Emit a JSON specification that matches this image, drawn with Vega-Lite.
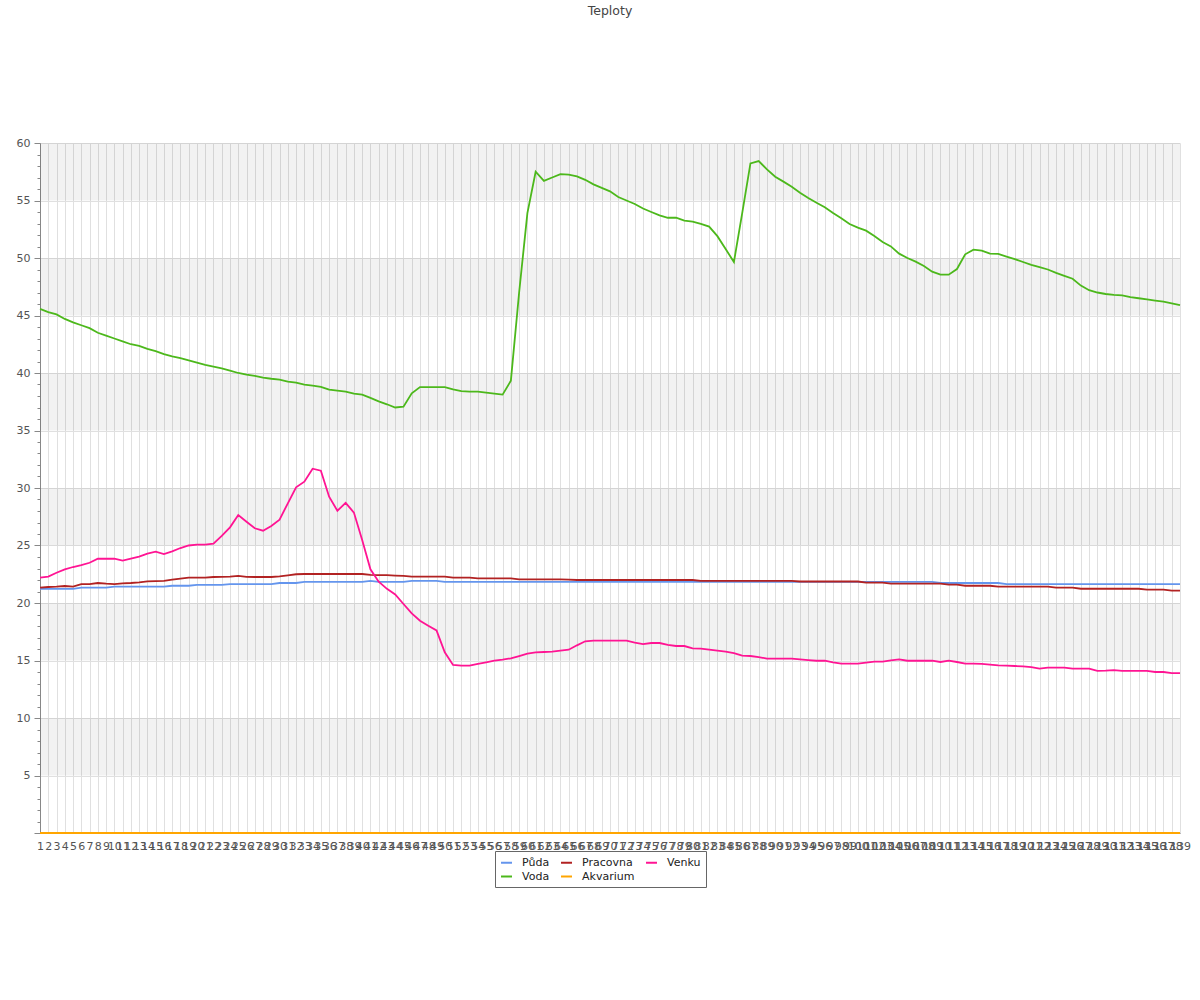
{
"$schema": "https://vega.github.io/schema/vega-lite/v6.json",
"width": 1140, "height": 690,
"autosize": "none",
"padding": {"left": 40, "top": 143, "right": 20, "bottom": 167},
"background": "white",
"title": {"text": "Teploty", "font": "DejaVu Sans", "fontSize": 12.5, "fontWeight": "normal", "color": "#444", "offset": 120, "anchor": "middle"},
"config": {"view": {"stroke": null}, "font": "DejaVu Sans", "axis": {"labelOverlap": false}},
"datasets": {
"bands": [{"lo":55,"hi":60},{"lo":45,"hi":50},{"lo":35,"hi":40},{"lo":25,"hi":30},{"lo":15,"hi":20},{"lo":5,"hi":10}],
"temps": [
{"i":1,"s":"Půda","v":21.22},{"i":2,"s":"Půda","v":21.22},{"i":3,"s":"Půda","v":21.22},{"i":4,"s":"Půda","v":21.22},{"i":5,"s":"Půda","v":21.22},
{"i":6,"s":"Půda","v":21.33},{"i":7,"s":"Půda","v":21.33},{"i":8,"s":"Půda","v":21.33},{"i":9,"s":"Půda","v":21.33},
{"i":10,"s":"Půda","v":21.42},{"i":11,"s":"Půda","v":21.42},{"i":12,"s":"Půda","v":21.42},{"i":13,"s":"Půda","v":21.42},{"i":14,"s":"Půda","v":21.42},{"i":15,"s":"Půda","v":21.42},{"i":16,"s":"Půda","v":21.42},
{"i":17,"s":"Půda","v":21.5},{"i":18,"s":"Půda","v":21.5},{"i":19,"s":"Půda","v":21.5},
{"i":20,"s":"Půda","v":21.57},{"i":21,"s":"Půda","v":21.57},{"i":22,"s":"Půda","v":21.57},{"i":23,"s":"Půda","v":21.57},
{"i":24,"s":"Půda","v":21.65},{"i":25,"s":"Půda","v":21.65},{"i":26,"s":"Půda","v":21.65},{"i":27,"s":"Půda","v":21.65},{"i":28,"s":"Půda","v":21.65},{"i":29,"s":"Půda","v":21.65},
{"i":30,"s":"Půda","v":21.74},{"i":31,"s":"Půda","v":21.74},{"i":32,"s":"Půda","v":21.74},
{"i":33,"s":"Půda","v":21.83},{"i":34,"s":"Půda","v":21.83},{"i":35,"s":"Půda","v":21.83},{"i":36,"s":"Půda","v":21.83},{"i":37,"s":"Půda","v":21.83},{"i":38,"s":"Půda","v":21.83},{"i":39,"s":"Půda","v":21.83},{"i":40,"s":"Půda","v":21.83},
{"i":41,"s":"Půda","v":21.92},
{"i":42,"s":"Půda","v":21.83},{"i":43,"s":"Půda","v":21.83},{"i":44,"s":"Půda","v":21.83},{"i":45,"s":"Půda","v":21.83},
{"i":46,"s":"Půda","v":21.92},{"i":47,"s":"Půda","v":21.92},{"i":48,"s":"Půda","v":21.92},{"i":49,"s":"Půda","v":21.92},
{"i":50,"s":"Půda","v":21.83},{"i":51,"s":"Půda","v":21.83},{"i":52,"s":"Půda","v":21.83},{"i":53,"s":"Půda","v":21.83},{"i":54,"s":"Půda","v":21.83},{"i":55,"s":"Půda","v":21.83},{"i":56,"s":"Půda","v":21.83},{"i":57,"s":"Půda","v":21.83},{"i":58,"s":"Půda","v":21.83},{"i":59,"s":"Půda","v":21.83},
{"i":60,"s":"Půda","v":21.83},{"i":61,"s":"Půda","v":21.83},{"i":62,"s":"Půda","v":21.83},{"i":63,"s":"Půda","v":21.83},{"i":64,"s":"Půda","v":21.83},{"i":65,"s":"Půda","v":21.83},{"i":66,"s":"Půda","v":21.83},{"i":67,"s":"Půda","v":21.83},{"i":68,"s":"Půda","v":21.83},{"i":69,"s":"Půda","v":21.83},
{"i":70,"s":"Půda","v":21.83},{"i":71,"s":"Půda","v":21.83},{"i":72,"s":"Půda","v":21.83},{"i":73,"s":"Půda","v":21.83},{"i":74,"s":"Půda","v":21.83},{"i":75,"s":"Půda","v":21.83},{"i":76,"s":"Půda","v":21.83},{"i":77,"s":"Půda","v":21.83},{"i":78,"s":"Půda","v":21.83},{"i":79,"s":"Půda","v":21.83},
{"i":80,"s":"Půda","v":21.83},{"i":81,"s":"Půda","v":21.83},{"i":82,"s":"Půda","v":21.83},{"i":83,"s":"Půda","v":21.83},{"i":84,"s":"Půda","v":21.83},{"i":85,"s":"Půda","v":21.83},{"i":86,"s":"Půda","v":21.83},{"i":87,"s":"Půda","v":21.83},{"i":88,"s":"Půda","v":21.83},{"i":89,"s":"Půda","v":21.83},
{"i":90,"s":"Půda","v":21.83},{"i":91,"s":"Půda","v":21.83},{"i":92,"s":"Půda","v":21.83},{"i":93,"s":"Půda","v":21.83},{"i":94,"s":"Půda","v":21.83},{"i":95,"s":"Půda","v":21.83},{"i":96,"s":"Půda","v":21.83},{"i":97,"s":"Půda","v":21.83},{"i":98,"s":"Půda","v":21.83},{"i":99,"s":"Půda","v":21.83},
{"i":100,"s":"Půda","v":21.83},{"i":101,"s":"Půda","v":21.83},{"i":102,"s":"Půda","v":21.83},{"i":103,"s":"Půda","v":21.83},{"i":104,"s":"Půda","v":21.83},{"i":105,"s":"Půda","v":21.83},{"i":106,"s":"Půda","v":21.83},{"i":107,"s":"Půda","v":21.83},{"i":108,"s":"Půda","v":21.83},{"i":109,"s":"Půda","v":21.83},
{"i":110,"s":"Půda","v":21.74},{"i":111,"s":"Půda","v":21.74},{"i":112,"s":"Půda","v":21.74},{"i":113,"s":"Půda","v":21.74},{"i":114,"s":"Půda","v":21.74},{"i":115,"s":"Půda","v":21.74},{"i":116,"s":"Půda","v":21.74},{"i":117,"s":"Půda","v":21.74},
{"i":118,"s":"Půda","v":21.65},{"i":119,"s":"Půda","v":21.65},{"i":120,"s":"Půda","v":21.65},{"i":121,"s":"Půda","v":21.65},{"i":122,"s":"Půda","v":21.65},{"i":123,"s":"Půda","v":21.65},{"i":124,"s":"Půda","v":21.65},{"i":125,"s":"Půda","v":21.65},{"i":126,"s":"Půda","v":21.65},{"i":127,"s":"Půda","v":21.65},{"i":128,"s":"Půda","v":21.65},
{"i":129,"s":"Půda","v":21.65},{"i":130,"s":"Půda","v":21.65},{"i":131,"s":"Půda","v":21.65},{"i":132,"s":"Půda","v":21.65},{"i":133,"s":"Půda","v":21.65},{"i":134,"s":"Půda","v":21.65},{"i":135,"s":"Půda","v":21.65},{"i":136,"s":"Půda","v":21.65},{"i":137,"s":"Půda","v":21.65},{"i":138,"s":"Půda","v":21.65},{"i":139,"s":"Půda","v":21.65},

{"i":1,"s":"Voda","v":45.57},{"i":2,"s":"Voda","v":45.3},{"i":3,"s":"Voda","v":45.1},{"i":4,"s":"Voda","v":44.7},{"i":5,"s":"Voda","v":44.4},{"i":6,"s":"Voda","v":44.15},{"i":7,"s":"Voda","v":43.9},{"i":8,"s":"Voda","v":43.5},{"i":9,"s":"Voda","v":43.25},{"i":10,"s":"Voda","v":43.0},
{"i":11,"s":"Voda","v":42.75},{"i":12,"s":"Voda","v":42.5},{"i":13,"s":"Voda","v":42.35},{"i":14,"s":"Voda","v":42.1},{"i":15,"s":"Voda","v":41.9},{"i":16,"s":"Voda","v":41.65},{"i":17,"s":"Voda","v":41.45},{"i":18,"s":"Voda","v":41.3},{"i":19,"s":"Voda","v":41.1},{"i":20,"s":"Voda","v":40.9},
{"i":21,"s":"Voda","v":40.7},{"i":22,"s":"Voda","v":40.55},{"i":23,"s":"Voda","v":40.4},{"i":24,"s":"Voda","v":40.2},{"i":25,"s":"Voda","v":40.0},{"i":26,"s":"Voda","v":39.85},{"i":27,"s":"Voda","v":39.75},{"i":28,"s":"Voda","v":39.6},{"i":29,"s":"Voda","v":39.5},{"i":30,"s":"Voda","v":39.42},
{"i":31,"s":"Voda","v":39.25},{"i":32,"s":"Voda","v":39.16},{"i":33,"s":"Voda","v":38.98},{"i":34,"s":"Voda","v":38.9},{"i":35,"s":"Voda","v":38.8},{"i":36,"s":"Voda","v":38.55},{"i":37,"s":"Voda","v":38.46},{"i":38,"s":"Voda","v":38.38},{"i":39,"s":"Voda","v":38.2},{"i":40,"s":"Voda","v":38.12},
{"i":41,"s":"Voda","v":37.83},{"i":42,"s":"Voda","v":37.54},{"i":43,"s":"Voda","v":37.28},{"i":44,"s":"Voda","v":37.0},{"i":45,"s":"Voda","v":37.07},{"i":46,"s":"Voda","v":38.23},{"i":47,"s":"Voda","v":38.78},{"i":48,"s":"Voda","v":38.78},{"i":49,"s":"Voda","v":38.78},{"i":50,"s":"Voda","v":38.78},
{"i":51,"s":"Voda","v":38.58},{"i":52,"s":"Voda","v":38.43},{"i":53,"s":"Voda","v":38.38},{"i":54,"s":"Voda","v":38.38},{"i":55,"s":"Voda","v":38.29},{"i":56,"s":"Voda","v":38.2},{"i":57,"s":"Voda","v":38.12},{"i":58,"s":"Voda","v":39.33},{"i":59,"s":"Voda","v":47.0},{"i":60,"s":"Voda","v":53.9},
{"i":61,"s":"Voda","v":57.5},{"i":62,"s":"Voda","v":56.7},{"i":63,"s":"Voda","v":57.0},{"i":64,"s":"Voda","v":57.3},{"i":65,"s":"Voda","v":57.25},{"i":66,"s":"Voda","v":57.1},{"i":67,"s":"Voda","v":56.8},{"i":68,"s":"Voda","v":56.4},{"i":69,"s":"Voda","v":56.1},{"i":70,"s":"Voda","v":55.8},
{"i":71,"s":"Voda","v":55.3},{"i":72,"s":"Voda","v":55.0},{"i":73,"s":"Voda","v":54.7},{"i":74,"s":"Voda","v":54.3},{"i":75,"s":"Voda","v":54.0},{"i":76,"s":"Voda","v":53.7},{"i":77,"s":"Voda","v":53.5},{"i":78,"s":"Voda","v":53.5},{"i":79,"s":"Voda","v":53.25},{"i":80,"s":"Voda","v":53.16},
{"i":81,"s":"Voda","v":52.96},{"i":82,"s":"Voda","v":52.73},{"i":83,"s":"Voda","v":51.9},{"i":84,"s":"Voda","v":50.78},{"i":85,"s":"Voda","v":49.65},{"i":86,"s":"Voda","v":53.88},{"i":87,"s":"Voda","v":58.23},{"i":88,"s":"Voda","v":58.43},{"i":89,"s":"Voda","v":57.71},{"i":90,"s":"Voda","v":57.07},
{"i":91,"s":"Voda","v":56.64},{"i":92,"s":"Voda","v":56.2},{"i":93,"s":"Voda","v":55.68},{"i":94,"s":"Voda","v":55.22},{"i":95,"s":"Voda","v":54.81},{"i":96,"s":"Voda","v":54.41},{"i":97,"s":"Voda","v":53.91},{"i":98,"s":"Voda","v":53.45},{"i":99,"s":"Voda","v":52.96},{"i":100,"s":"Voda","v":52.64},
{"i":101,"s":"Voda","v":52.38},{"i":102,"s":"Voda","v":51.91},{"i":103,"s":"Voda","v":51.39},{"i":104,"s":"Voda","v":51.01},{"i":105,"s":"Voda","v":50.38},{"i":106,"s":"Voda","v":50.0},{"i":107,"s":"Voda","v":49.68},{"i":108,"s":"Voda","v":49.3},{"i":109,"s":"Voda","v":48.81},{"i":110,"s":"Voda","v":48.55},
{"i":111,"s":"Voda","v":48.55},{"i":112,"s":"Voda","v":49.04},{"i":113,"s":"Voda","v":50.32},{"i":114,"s":"Voda","v":50.72},{"i":115,"s":"Voda","v":50.64},{"i":116,"s":"Voda","v":50.38},{"i":117,"s":"Voda","v":50.35},{"i":118,"s":"Voda","v":50.12},{"i":119,"s":"Voda","v":49.9},{"i":120,"s":"Voda","v":49.65},
{"i":121,"s":"Voda","v":49.4},{"i":122,"s":"Voda","v":49.2},{"i":123,"s":"Voda","v":49.0},{"i":124,"s":"Voda","v":48.7},{"i":125,"s":"Voda","v":48.45},{"i":126,"s":"Voda","v":48.2},{"i":127,"s":"Voda","v":47.6},{"i":128,"s":"Voda","v":47.2},{"i":129,"s":"Voda","v":47.0},{"i":130,"s":"Voda","v":46.87},
{"i":131,"s":"Voda","v":46.8},{"i":132,"s":"Voda","v":46.75},{"i":133,"s":"Voda","v":46.6},{"i":134,"s":"Voda","v":46.5},{"i":135,"s":"Voda","v":46.4},{"i":136,"s":"Voda","v":46.3},{"i":137,"s":"Voda","v":46.2},{"i":138,"s":"Voda","v":46.05},{"i":139,"s":"Voda","v":45.9},

{"i":1,"s":"Pracovna","v":21.33},{"i":2,"s":"Pracovna","v":21.39},{"i":3,"s":"Pracovna","v":21.42},{"i":4,"s":"Pracovna","v":21.48},{"i":5,"s":"Pracovna","v":21.42},{"i":6,"s":"Pracovna","v":21.65},{"i":7,"s":"Pracovna","v":21.65},{"i":8,"s":"Pracovna","v":21.74},{"i":9,"s":"Pracovna","v":21.68},{"i":10,"s":"Pracovna","v":21.65},
{"i":11,"s":"Pracovna","v":21.7},{"i":12,"s":"Pracovna","v":21.74},{"i":13,"s":"Pracovna","v":21.8},{"i":14,"s":"Pracovna","v":21.88},{"i":15,"s":"Pracovna","v":21.9},{"i":16,"s":"Pracovna","v":21.93},{"i":17,"s":"Pracovna","v":22.03},{"i":18,"s":"Pracovna","v":22.12},{"i":19,"s":"Pracovna","v":22.2},{"i":20,"s":"Pracovna","v":22.2},
{"i":21,"s":"Pracovna","v":22.2},{"i":22,"s":"Pracovna","v":22.26},{"i":23,"s":"Pracovna","v":22.28},{"i":24,"s":"Pracovna","v":22.3},{"i":25,"s":"Pracovna","v":22.35},{"i":26,"s":"Pracovna","v":22.28},{"i":27,"s":"Pracovna","v":22.26},{"i":28,"s":"Pracovna","v":22.26},{"i":29,"s":"Pracovna","v":22.26},{"i":30,"s":"Pracovna","v":22.32},
{"i":31,"s":"Pracovna","v":22.41},{"i":32,"s":"Pracovna","v":22.5},{"i":33,"s":"Pracovna","v":22.52},{"i":34,"s":"Pracovna","v":22.52},{"i":35,"s":"Pracovna","v":22.52},{"i":36,"s":"Pracovna","v":22.52},{"i":37,"s":"Pracovna","v":22.52},{"i":38,"s":"Pracovna","v":22.52},{"i":39,"s":"Pracovna","v":22.52},{"i":40,"s":"Pracovna","v":22.52},
{"i":41,"s":"Pracovna","v":22.45},{"i":42,"s":"Pracovna","v":22.43},{"i":43,"s":"Pracovna","v":22.42},{"i":44,"s":"Pracovna","v":22.38},{"i":45,"s":"Pracovna","v":22.35},{"i":46,"s":"Pracovna","v":22.3},{"i":47,"s":"Pracovna","v":22.3},{"i":48,"s":"Pracovna","v":22.3},{"i":49,"s":"Pracovna","v":22.3},{"i":50,"s":"Pracovna","v":22.3},
{"i":51,"s":"Pracovna","v":22.2},{"i":52,"s":"Pracovna","v":22.2},{"i":53,"s":"Pracovna","v":22.2},{"i":54,"s":"Pracovna","v":22.15},{"i":55,"s":"Pracovna","v":22.15},{"i":56,"s":"Pracovna","v":22.15},{"i":57,"s":"Pracovna","v":22.15},{"i":58,"s":"Pracovna","v":22.15},{"i":59,"s":"Pracovna","v":22.06},{"i":60,"s":"Pracovna","v":22.06},
{"i":61,"s":"Pracovna","v":22.06},{"i":62,"s":"Pracovna","v":22.06},{"i":63,"s":"Pracovna","v":22.06},{"i":64,"s":"Pracovna","v":22.06},{"i":65,"s":"Pracovna","v":22.03},{"i":66,"s":"Pracovna","v":22.0},{"i":67,"s":"Pracovna","v":22.0},{"i":68,"s":"Pracovna","v":22.0},{"i":69,"s":"Pracovna","v":22.0},{"i":70,"s":"Pracovna","v":22.0},
{"i":71,"s":"Pracovna","v":22.0},{"i":72,"s":"Pracovna","v":22.0},{"i":73,"s":"Pracovna","v":22.0},{"i":74,"s":"Pracovna","v":22.0},{"i":75,"s":"Pracovna","v":22.0},{"i":76,"s":"Pracovna","v":22.0},{"i":77,"s":"Pracovna","v":22.0},{"i":78,"s":"Pracovna","v":22.0},{"i":79,"s":"Pracovna","v":22.0},{"i":80,"s":"Pracovna","v":22.0},
{"i":81,"s":"Pracovna","v":21.92},{"i":82,"s":"Pracovna","v":21.92},{"i":83,"s":"Pracovna","v":21.92},{"i":84,"s":"Pracovna","v":21.92},{"i":85,"s":"Pracovna","v":21.92},{"i":86,"s":"Pracovna","v":21.92},{"i":87,"s":"Pracovna","v":21.92},{"i":88,"s":"Pracovna","v":21.92},{"i":89,"s":"Pracovna","v":21.92},{"i":90,"s":"Pracovna","v":21.92},
{"i":91,"s":"Pracovna","v":21.92},{"i":92,"s":"Pracovna","v":21.92},{"i":93,"s":"Pracovna","v":21.87},{"i":94,"s":"Pracovna","v":21.87},{"i":95,"s":"Pracovna","v":21.87},{"i":96,"s":"Pracovna","v":21.87},{"i":97,"s":"Pracovna","v":21.87},{"i":98,"s":"Pracovna","v":21.87},{"i":99,"s":"Pracovna","v":21.87},{"i":100,"s":"Pracovna","v":21.87},
{"i":101,"s":"Pracovna","v":21.77},{"i":102,"s":"Pracovna","v":21.77},{"i":103,"s":"Pracovna","v":21.77},{"i":104,"s":"Pracovna","v":21.68},{"i":105,"s":"Pracovna","v":21.68},{"i":106,"s":"Pracovna","v":21.68},{"i":107,"s":"Pracovna","v":21.68},{"i":108,"s":"Pracovna","v":21.68},{"i":109,"s":"Pracovna","v":21.68},{"i":110,"s":"Pracovna","v":21.68},
{"i":111,"s":"Pracovna","v":21.59},{"i":112,"s":"Pracovna","v":21.59},{"i":113,"s":"Pracovna","v":21.5},{"i":114,"s":"Pracovna","v":21.5},{"i":115,"s":"Pracovna","v":21.5},{"i":116,"s":"Pracovna","v":21.5},{"i":117,"s":"Pracovna","v":21.42},{"i":118,"s":"Pracovna","v":21.42},{"i":119,"s":"Pracovna","v":21.42},{"i":120,"s":"Pracovna","v":21.42},
{"i":121,"s":"Pracovna","v":21.42},{"i":122,"s":"Pracovna","v":21.42},{"i":123,"s":"Pracovna","v":21.42},{"i":124,"s":"Pracovna","v":21.33},{"i":125,"s":"Pracovna","v":21.33},{"i":126,"s":"Pracovna","v":21.33},{"i":127,"s":"Pracovna","v":21.24},{"i":128,"s":"Pracovna","v":21.24},{"i":129,"s":"Pracovna","v":21.24},{"i":130,"s":"Pracovna","v":21.24},
{"i":131,"s":"Pracovna","v":21.24},{"i":132,"s":"Pracovna","v":21.24},{"i":133,"s":"Pracovna","v":21.24},{"i":134,"s":"Pracovna","v":21.24},{"i":135,"s":"Pracovna","v":21.16},{"i":136,"s":"Pracovna","v":21.16},{"i":137,"s":"Pracovna","v":21.16},{"i":138,"s":"Pracovna","v":21.07},{"i":139,"s":"Pracovna","v":21.07},

{"i":1,"s":"Akvarium","v":0},{"i":2,"s":"Akvarium","v":0},{"i":3,"s":"Akvarium","v":0},{"i":4,"s":"Akvarium","v":0},{"i":5,"s":"Akvarium","v":0},{"i":6,"s":"Akvarium","v":0},{"i":7,"s":"Akvarium","v":0},{"i":8,"s":"Akvarium","v":0},{"i":9,"s":"Akvarium","v":0},{"i":10,"s":"Akvarium","v":0},
{"i":11,"s":"Akvarium","v":0},{"i":12,"s":"Akvarium","v":0},{"i":13,"s":"Akvarium","v":0},{"i":14,"s":"Akvarium","v":0},{"i":15,"s":"Akvarium","v":0},{"i":16,"s":"Akvarium","v":0},{"i":17,"s":"Akvarium","v":0},{"i":18,"s":"Akvarium","v":0},{"i":19,"s":"Akvarium","v":0},{"i":20,"s":"Akvarium","v":0},
{"i":21,"s":"Akvarium","v":0},{"i":22,"s":"Akvarium","v":0},{"i":23,"s":"Akvarium","v":0},{"i":24,"s":"Akvarium","v":0},{"i":25,"s":"Akvarium","v":0},{"i":26,"s":"Akvarium","v":0},{"i":27,"s":"Akvarium","v":0},{"i":28,"s":"Akvarium","v":0},{"i":29,"s":"Akvarium","v":0},{"i":30,"s":"Akvarium","v":0},
{"i":31,"s":"Akvarium","v":0},{"i":32,"s":"Akvarium","v":0},{"i":33,"s":"Akvarium","v":0},{"i":34,"s":"Akvarium","v":0},{"i":35,"s":"Akvarium","v":0},{"i":36,"s":"Akvarium","v":0},{"i":37,"s":"Akvarium","v":0},{"i":38,"s":"Akvarium","v":0},{"i":39,"s":"Akvarium","v":0},{"i":40,"s":"Akvarium","v":0},
{"i":41,"s":"Akvarium","v":0},{"i":42,"s":"Akvarium","v":0},{"i":43,"s":"Akvarium","v":0},{"i":44,"s":"Akvarium","v":0},{"i":45,"s":"Akvarium","v":0},{"i":46,"s":"Akvarium","v":0},{"i":47,"s":"Akvarium","v":0},{"i":48,"s":"Akvarium","v":0},{"i":49,"s":"Akvarium","v":0},{"i":50,"s":"Akvarium","v":0},
{"i":51,"s":"Akvarium","v":0},{"i":52,"s":"Akvarium","v":0},{"i":53,"s":"Akvarium","v":0},{"i":54,"s":"Akvarium","v":0},{"i":55,"s":"Akvarium","v":0},{"i":56,"s":"Akvarium","v":0},{"i":57,"s":"Akvarium","v":0},{"i":58,"s":"Akvarium","v":0},{"i":59,"s":"Akvarium","v":0},{"i":60,"s":"Akvarium","v":0},
{"i":61,"s":"Akvarium","v":0},{"i":62,"s":"Akvarium","v":0},{"i":63,"s":"Akvarium","v":0},{"i":64,"s":"Akvarium","v":0},{"i":65,"s":"Akvarium","v":0},{"i":66,"s":"Akvarium","v":0},{"i":67,"s":"Akvarium","v":0},{"i":68,"s":"Akvarium","v":0},{"i":69,"s":"Akvarium","v":0},{"i":70,"s":"Akvarium","v":0},
{"i":71,"s":"Akvarium","v":0},{"i":72,"s":"Akvarium","v":0},{"i":73,"s":"Akvarium","v":0},{"i":74,"s":"Akvarium","v":0},{"i":75,"s":"Akvarium","v":0},{"i":76,"s":"Akvarium","v":0},{"i":77,"s":"Akvarium","v":0},{"i":78,"s":"Akvarium","v":0},{"i":79,"s":"Akvarium","v":0},{"i":80,"s":"Akvarium","v":0},
{"i":81,"s":"Akvarium","v":0},{"i":82,"s":"Akvarium","v":0},{"i":83,"s":"Akvarium","v":0},{"i":84,"s":"Akvarium","v":0},{"i":85,"s":"Akvarium","v":0},{"i":86,"s":"Akvarium","v":0},{"i":87,"s":"Akvarium","v":0},{"i":88,"s":"Akvarium","v":0},{"i":89,"s":"Akvarium","v":0},{"i":90,"s":"Akvarium","v":0},
{"i":91,"s":"Akvarium","v":0},{"i":92,"s":"Akvarium","v":0},{"i":93,"s":"Akvarium","v":0},{"i":94,"s":"Akvarium","v":0},{"i":95,"s":"Akvarium","v":0},{"i":96,"s":"Akvarium","v":0},{"i":97,"s":"Akvarium","v":0},{"i":98,"s":"Akvarium","v":0},{"i":99,"s":"Akvarium","v":0},{"i":100,"s":"Akvarium","v":0},
{"i":101,"s":"Akvarium","v":0},{"i":102,"s":"Akvarium","v":0},{"i":103,"s":"Akvarium","v":0},{"i":104,"s":"Akvarium","v":0},{"i":105,"s":"Akvarium","v":0},{"i":106,"s":"Akvarium","v":0},{"i":107,"s":"Akvarium","v":0},{"i":108,"s":"Akvarium","v":0},{"i":109,"s":"Akvarium","v":0},{"i":110,"s":"Akvarium","v":0},
{"i":111,"s":"Akvarium","v":0},{"i":112,"s":"Akvarium","v":0},{"i":113,"s":"Akvarium","v":0},{"i":114,"s":"Akvarium","v":0},{"i":115,"s":"Akvarium","v":0},{"i":116,"s":"Akvarium","v":0},{"i":117,"s":"Akvarium","v":0},{"i":118,"s":"Akvarium","v":0},{"i":119,"s":"Akvarium","v":0},{"i":120,"s":"Akvarium","v":0},
{"i":121,"s":"Akvarium","v":0},{"i":122,"s":"Akvarium","v":0},{"i":123,"s":"Akvarium","v":0},{"i":124,"s":"Akvarium","v":0},{"i":125,"s":"Akvarium","v":0},{"i":126,"s":"Akvarium","v":0},{"i":127,"s":"Akvarium","v":0},{"i":128,"s":"Akvarium","v":0},{"i":129,"s":"Akvarium","v":0},{"i":130,"s":"Akvarium","v":0},
{"i":131,"s":"Akvarium","v":0},{"i":132,"s":"Akvarium","v":0},{"i":133,"s":"Akvarium","v":0},{"i":134,"s":"Akvarium","v":0},{"i":135,"s":"Akvarium","v":0},{"i":136,"s":"Akvarium","v":0},{"i":137,"s":"Akvarium","v":0},{"i":138,"s":"Akvarium","v":0},{"i":139,"s":"Akvarium","v":0},

{"i":1,"s":"Venku","v":22.2},{"i":2,"s":"Venku","v":22.29},{"i":3,"s":"Venku","v":22.63},{"i":4,"s":"Venku","v":22.93},{"i":5,"s":"Venku","v":23.13},{"i":6,"s":"Venku","v":23.3},{"i":7,"s":"Venku","v":23.5},{"i":8,"s":"Venku","v":23.85},{"i":9,"s":"Venku","v":23.85},{"i":10,"s":"Venku","v":23.85},
{"i":11,"s":"Venku","v":23.68},{"i":12,"s":"Venku","v":23.85},{"i":13,"s":"Venku","v":24.03},{"i":14,"s":"Venku","v":24.29},{"i":15,"s":"Venku","v":24.46},{"i":16,"s":"Venku","v":24.26},{"i":17,"s":"Venku","v":24.49},{"i":18,"s":"Venku","v":24.78},{"i":19,"s":"Venku","v":25.0},{"i":20,"s":"Venku","v":25.07},
{"i":21,"s":"Venku","v":25.07},{"i":22,"s":"Venku","v":25.16},{"i":23,"s":"Venku","v":25.83},{"i":24,"s":"Venku","v":26.58},{"i":25,"s":"Venku","v":27.65},{"i":26,"s":"Venku","v":27.07},{"i":27,"s":"Venku","v":26.5},{"i":28,"s":"Venku","v":26.29},{"i":29,"s":"Venku","v":26.7},{"i":30,"s":"Venku","v":27.25},
{"i":31,"s":"Venku","v":28.67},{"i":32,"s":"Venku","v":30.06},{"i":33,"s":"Venku","v":30.55},{"i":34,"s":"Venku","v":31.68},{"i":35,"s":"Venku","v":31.5},{"i":36,"s":"Venku","v":29.24},{"i":37,"s":"Venku","v":28.02},{"i":38,"s":"Venku","v":28.71},{"i":39,"s":"Venku","v":27.86},{"i":40,"s":"Venku","v":25.48},
{"i":41,"s":"Venku","v":22.93},{"i":42,"s":"Venku","v":21.85},{"i":43,"s":"Venku","v":21.23},{"i":44,"s":"Venku","v":20.74},{"i":45,"s":"Venku","v":19.91},{"i":46,"s":"Venku","v":19.1},{"i":47,"s":"Venku","v":18.46},{"i":48,"s":"Venku","v":18.03},{"i":49,"s":"Venku","v":17.62},{"i":50,"s":"Venku","v":15.72},
{"i":51,"s":"Venku","v":14.62},{"i":52,"s":"Venku","v":14.55},{"i":53,"s":"Venku","v":14.55},{"i":54,"s":"Venku","v":14.7},{"i":55,"s":"Venku","v":14.84},{"i":56,"s":"Venku","v":14.98},{"i":57,"s":"Venku","v":15.07},{"i":58,"s":"Venku","v":15.19},{"i":59,"s":"Venku","v":15.39},{"i":60,"s":"Venku","v":15.59},
{"i":61,"s":"Venku","v":15.71},{"i":62,"s":"Venku","v":15.74},{"i":63,"s":"Venku","v":15.77},{"i":64,"s":"Venku","v":15.85},{"i":65,"s":"Venku","v":15.94},{"i":66,"s":"Venku","v":16.32},{"i":67,"s":"Venku","v":16.67},{"i":68,"s":"Venku","v":16.72},{"i":69,"s":"Venku","v":16.72},{"i":70,"s":"Venku","v":16.72},
{"i":71,"s":"Venku","v":16.72},{"i":72,"s":"Venku","v":16.72},{"i":73,"s":"Venku","v":16.55},{"i":74,"s":"Venku","v":16.43},{"i":75,"s":"Venku","v":16.52},{"i":76,"s":"Venku","v":16.52},{"i":77,"s":"Venku","v":16.35},{"i":78,"s":"Venku","v":16.26},{"i":79,"s":"Venku","v":16.26},{"i":80,"s":"Venku","v":16.06},
{"i":81,"s":"Venku","v":16.03},{"i":82,"s":"Venku","v":15.94},{"i":83,"s":"Venku","v":15.85},{"i":84,"s":"Venku","v":15.77},{"i":85,"s":"Venku","v":15.65},{"i":86,"s":"Venku","v":15.42},{"i":87,"s":"Venku","v":15.39},{"i":88,"s":"Venku","v":15.3},{"i":89,"s":"Venku","v":15.16},{"i":90,"s":"Venku","v":15.16},
{"i":91,"s":"Venku","v":15.16},{"i":92,"s":"Venku","v":15.16},{"i":93,"s":"Venku","v":15.1},{"i":94,"s":"Venku","v":15.04},{"i":95,"s":"Venku","v":14.98},{"i":96,"s":"Venku","v":14.98},{"i":97,"s":"Venku","v":14.84},{"i":98,"s":"Venku","v":14.72},{"i":99,"s":"Venku","v":14.72},{"i":100,"s":"Venku","v":14.72},
{"i":101,"s":"Venku","v":14.81},{"i":102,"s":"Venku","v":14.9},{"i":103,"s":"Venku","v":14.9},{"i":104,"s":"Venku","v":15.01},{"i":105,"s":"Venku","v":15.1},{"i":106,"s":"Venku","v":14.98},{"i":107,"s":"Venku","v":14.98},{"i":108,"s":"Venku","v":14.98},{"i":109,"s":"Venku","v":14.98},{"i":110,"s":"Venku","v":14.87},
{"i":111,"s":"Venku","v":14.98},{"i":112,"s":"Venku","v":14.87},{"i":113,"s":"Venku","v":14.72},{"i":114,"s":"Venku","v":14.72},{"i":115,"s":"Venku","v":14.7},{"i":116,"s":"Venku","v":14.64},{"i":117,"s":"Venku","v":14.58},{"i":118,"s":"Venku","v":14.55},{"i":119,"s":"Venku","v":14.52},{"i":120,"s":"Venku","v":14.49},
{"i":121,"s":"Venku","v":14.43},{"i":122,"s":"Venku","v":14.29},{"i":123,"s":"Venku","v":14.38},{"i":124,"s":"Venku","v":14.38},{"i":125,"s":"Venku","v":14.38},{"i":126,"s":"Venku","v":14.29},{"i":127,"s":"Venku","v":14.29},{"i":128,"s":"Venku","v":14.29},{"i":129,"s":"Venku","v":14.09},{"i":130,"s":"Venku","v":14.12},
{"i":131,"s":"Venku","v":14.17},{"i":132,"s":"Venku","v":14.09},{"i":133,"s":"Venku","v":14.09},{"i":134,"s":"Venku","v":14.09},{"i":135,"s":"Venku","v":14.09},{"i":136,"s":"Venku","v":14.0},{"i":137,"s":"Venku","v":14.0},{"i":138,"s":"Venku","v":13.91},{"i":139,"s":"Venku","v":13.91}
]
},
"layer": [
{
"data": {"name": "bands"},
"mark": {"type": "rect", "fill": "#000000", "opacity": 0.05},
"encoding": {
"y": {"field": "lo", "type": "quantitative", "scale": {"domain": [0, 60], "nice": false, "zero": true},
"axis": {"title": null, "values": [0,1,2,3,4,5,6,7,8,9,10,11,12,13,14,15,16,17,18,19,20,21,22,23,24,25,26,27,28,29,30,31,32,33,34,35,36,37,38,39,40,41,42,43,44,45,46,47,48,49,50,51,52,53,54,55,56,57,58,59,60],
"labelExpr": "(datum.value % 5 === 0 && datum.value > 0) ? datum.label : ''",
"labelOverlap": false, "labelFlush": false,
"labelFont": "DejaVu Sans", "labelFontSize": 11, "labelColor": "#545454", "labelPadding": 4,
"ticks": true, "tickColor": "#888888",
"tickSize": {"condition": {"test": "datum.value % 5 === 0", "value": 6}, "value": 3},
"grid": true, "gridColor": "#e0e0e0",
"gridOpacity": {"condition": {"test": "datum.value % 5 === 0", "value": 1}, "value": 0},
"domainColor": "#888888"}},
"y2": {"field": "hi"}
}
},
{
"data": {"name": "temps"},
"mark": {"type": "line", "strokeWidth": 1.8, "interpolate": "linear"},
"encoding": {
"x": {"field": "i", "type": "quantitative",
"scale": {"domain": [1, 139], "nice": false, "zero": false},
"axis": {"title": null, "values": [1,2,3,4,5,6,7,8,9,10,11,12,13,14,15,16,17,18,19,20,21,22,23,24,25,26,27,28,29,30,31,32,33,34,35,36,37,38,39,40,41,42,43,44,45,46,47,48,49,50,51,52,53,54,55,56,57,58,59,60,61,62,63,64,65,66,67,68,69,70,71,72,73,74,75,76,77,78,79,80,81,82,83,84,85,86,87,88,89,90,91,92,93,94,95,96,97,98,99,100,101,102,103,104,105,106,107,108,109,110,111,112,113,114,115,116,117,118,119,120,121,122,123,124,125,126,127,128,129,130,131,132,133,134,135,136,137,138,139],
"format": "d", "labelAngle": 0, "labelOverlap": false, "labelFlush": false, "labelBound": false,
"labelFont": "DejaVu Sans", "labelFontSize": 11, "labelColor": "#545454", "labelPadding": 7,
"ticks": false, "grid": true, "gridColor": "#e0e0e0", "gridWidth": 1,
"domainColor": "#888888"}},
"y": {"field": "v", "type": "quantitative",
"scale": {"domain": [0, 60], "nice": false, "zero": true},
"axis": {"title": null, "values": [0,1,2,3,4,5,6,7,8,9,10,11,12,13,14,15,16,17,18,19,20,21,22,23,24,25,26,27,28,29,30,31,32,33,34,35,36,37,38,39,40,41,42,43,44,45,46,47,48,49,50,51,52,53,54,55,56,57,58,59,60],
"labelExpr": "(datum.value % 5 === 0 && datum.value > 0) ? datum.label : ''",
"labelOverlap": false, "labelFlush": false,
"labelFont": "DejaVu Sans", "labelFontSize": 11, "labelColor": "#545454", "labelPadding": 4,
"ticks": true, "tickColor": "#888888",
"tickSize": {"condition": {"test": "datum.value % 5 === 0", "value": 6}, "value": 3},
"grid": true, "gridColor": "#e0e0e0",
"gridOpacity": {"condition": {"test": "datum.value % 5 === 0", "value": 1}, "value": 0},
"domainColor": "#888888"}},
"color": {"field": "s", "type": "nominal",
"scale": {"domain": ["Půda", "Pracovna", "Venku", "Voda", "Akvarium"], "range": ["#6495ED", "#B22222", "#FF1493", "#4CB81B", "#FFA500"]},
"legend": {"title": null, "orient": "none", "legendX": 455, "legendY": 708, "direction": "horizontal", "columns": 3, "symbolType": "stroke", "symbolStrokeWidth": 2, "symbolSize": 120, "labelFont": "DejaVu Sans", "labelFontSize": 11, "labelColor": "#222", "strokeColor": "#666666", "padding": 5, "columnPadding": 7, "rowPadding": 2, "labelOffset": 9}}
}
}
]
}
